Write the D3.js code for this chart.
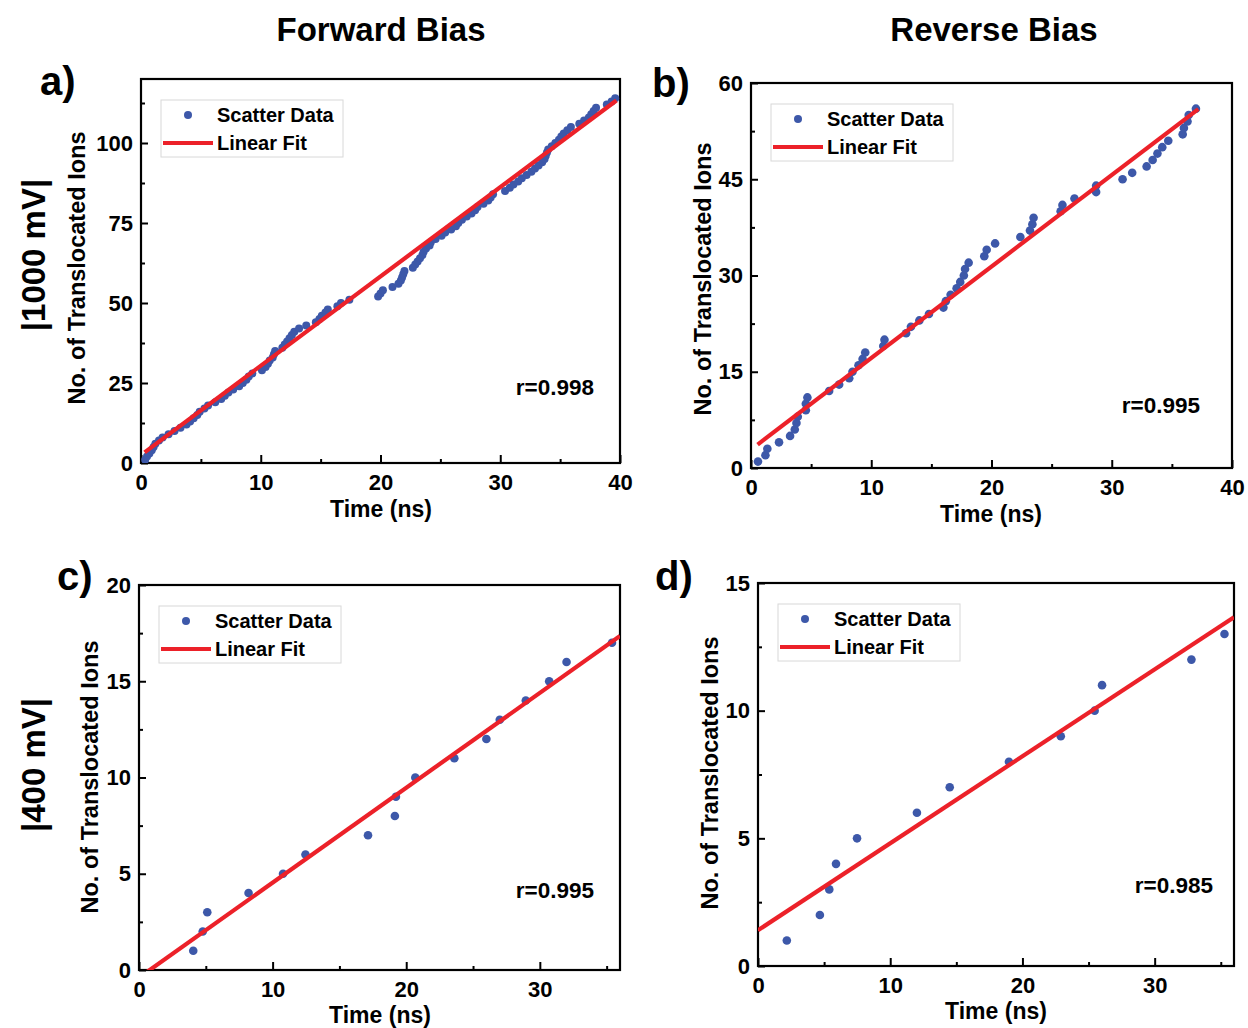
<!DOCTYPE html>
<html>
<head>
<meta charset="utf-8">
<script src="https://cdn.jsdelivr.net/npm/d3@7"></script>
<style>
  body { margin: 0; background: #fff; }
  svg { display: block; font-family: "Liberation Sans", Arial, sans-serif; font-weight: bold; }
</style>
</head>
<body>
<svg width="1248" height="1028"></svg>
<script>
// ---- data ----
// a) forward bias, |1000 mV|
var timeA = [0.35, 0.5, 0.7, 0.9, 1.05, 1.2, 1.5, 1.8, 2.3, 2.8, 3.3, 3.8, 4.1, 4.4, 4.7, 4.9, 5.3, 5.6, 6.2, 6.7,
  7.0, 7.3, 7.7, 8.2, 8.5, 8.8, 9.0, 9.3, 10.1, 10.4, 10.6, 10.75, 11.0, 11.1, 11.2, 11.8, 12.0, 12.2, 12.4, 12.6,
  12.8, 13.2, 13.8, 14.6, 14.9, 15.1, 15.4, 15.6, 16.4, 16.7, 17.4, 19.8, 20.0, 20.2, 21.0, 21.5, 21.7, 21.8, 21.9, 22.0,
  22.7, 22.9, 23.1, 23.3, 23.5, 23.6, 23.8, 24.1, 24.2, 24.6, 25.1, 25.4, 25.9, 26.3, 26.5, 26.8, 27.2, 27.6, 27.9, 28.1,
  28.6, 29.0, 29.2, 29.4, 30.4, 30.8, 31.1, 31.5, 31.8, 32.2, 32.6, 32.9, 33.2, 33.5, 33.7, 33.8, 33.9, 34.0, 34.3, 34.6,
  34.9, 35.1, 35.3, 35.6, 35.9, 36.6, 37.0, 37.4, 37.6, 37.8, 38.0, 38.9, 39.3, 39.6];
var ionsA = [1, 2, 3, 4, 5, 6, 7, 8, 9, 10, 11, 12, 13, 14, 15, 16, 17, 18, 19, 20,
  21, 22, 23, 24, 25, 26, 27, 28, 29, 30, 31, 32, 33, 34, 35, 36, 37, 38, 39, 40,
  41, 42, 43, 44, 45, 46, 47, 48, 49, 50, 51, 52, 53, 54, 55, 56, 57, 58, 59, 60,
  61, 62, 63, 64, 65, 66, 67, 68, 69, 70, 71, 72, 73, 74, 75, 76, 77, 78, 79, 80,
  81, 82, 83, 84, 85, 86, 87, 88, 89, 90, 91, 92, 93, 94, 95, 96, 97, 98, 99, 100,
  101, 102, 103, 104, 105, 106, 107, 108, 109, 110, 111, 112, 113, 114];

// b) reverse bias, |1000 mV|
var timeB = [0.58, 1.2, 1.36, 2.33, 3.25, 3.64, 3.78, 3.89, 4.56, 4.56, 4.69, 6.5, 7.33, 8.17, 8.44, 8.94, 9.28, 9.5,
  11.0, 11.1, 12.9, 13.3, 14.0, 14.8, 16.0, 16.2, 16.6, 17.1, 17.4, 17.7, 17.8, 18.1, 19.4, 19.6, 20.3, 22.4,
  23.2, 23.4, 23.5, 25.75, 25.9, 26.9, 28.7, 28.7, 30.9, 31.7, 32.9, 33.4, 33.8, 34.2, 34.7, 35.9, 36.0, 36.3, 36.4, 37.0];
var ionsB = [1, 2, 3, 4, 5, 6, 7, 8, 9, 10, 11, 12, 13, 14, 15, 16, 17, 18,
  19, 20, 21, 22, 23, 24, 25, 26, 27, 28, 29, 30, 31, 32, 33, 34, 35, 36,
  37, 38, 39, 40, 41, 42, 43, 44, 45, 46, 47, 48, 49, 50, 51, 52, 53, 54, 55, 56];

// c) forward bias, |400 mV|
var timeC = [4.06, 4.77, 5.11, 8.2, 10.78, 12.46, 17.14, 19.15, 19.23, 20.68, 23.6, 26.0, 27.0, 28.95, 30.7, 32.0, 35.4];
var ionsC = [1, 2, 3, 4, 5, 6, 7, 8, 9, 10, 11, 12, 13, 14, 15, 16, 17];

// d) reverse bias, |400 mV|
var timeD = [2.18, 4.68, 5.39, 5.9, 7.49, 12.02, 14.5, 18.98, 22.9, 25.46, 26.02, 32.78, 35.28];
var ionsD = [1, 2, 3, 4, 5, 6, 7, 8, 9, 10, 11, 12, 13];

// linear fits: [slope, intercept, xStart, xEnd]
var fitA = [2.79, 2.5, 0.3, 39.7];
var fitB = [1.426, 2.87, 0.55, 37.2];
var fitC = [0.493, -0.395, 0.0, 36.0];
var fitD = [0.3406, 1.40, 0.0, 36.0];

var rValues = ["r=0.998", "r=0.995", "r=0.995", "r=0.985"];
var columnTitles = ["Forward Bias", "Reverse Bias"];
var rowTitles = ["|1000 mV|", "|400 mV|"];

var blue = "#3d58a9";
var red = "#ec2129";

var svg = d3.select("svg");

var panels = [
  { key: "a)", t: timeA, n: ionsA, fit: fitA, r: rValues[0], x: [0, 40], y: [0, 120], xt: 10, yt: 25,
    box: { l: 141, r: 620, t: 79, b: 463 }, dot: 4, rpos: [594, 395], ylab: [85, 268], xlab: [381, 517], tag: [40, 95] },
  { key: "b)", t: timeB, n: ionsB, fit: fitB, r: rValues[1], x: [0, 40], y: [0, 60], xt: 10, yt: 15,
    box: { l: 751, r: 1232, t: 83, b: 468 }, dot: 4.3, rpos: [1200, 413], ylab: [711, 279], xlab: [991, 522], tag: [652, 97] },
  { key: "c)", t: timeC, n: ionsC, fit: fitC, r: rValues[2], x: [0, 36], y: [0, 20], xt: 10, yt: 5,
    box: { l: 139, r: 620, t: 585, b: 970 }, dot: 4.3, rpos: [594, 898], ylab: [98, 777], xlab: [380, 1023], tag: [57, 590] },
  { key: "d)", t: timeD, n: ionsD, fit: fitD, r: rValues[3], x: [0, 36], y: [0, 15], xt: 10, yt: 5,
    box: { l: 758, r: 1234, t: 583, b: 966 }, dot: 4.3, rpos: [1213, 893], ylab: [718, 773], xlab: [996, 1019], tag: [655, 590] }
];

panels.forEach(function(p, i) {
  var b = p.box;
  var xScale = d3.scaleLinear().domain(p.x).range([b.l, b.r]);
  var yScale = d3.scaleLinear().domain(p.y).range([b.b, b.t]);

  var g = svg.append("g");

  var clipId = "clip" + i;
  g.append("clipPath").attr("id", clipId)
    .append("rect").attr("x", b.l).attr("y", b.t).attr("width", b.r - b.l).attr("height", b.b - b.t);

  var majorX = d3.range(p.x[0], p.x[1] + 0.001, p.xt);
  var minorX = d3.range(p.x[0] + p.xt / 2, p.x[1], p.xt);
  var majorY = d3.range(p.y[0], p.y[1] + 0.001, p.yt);
  var minorY = d3.range(p.y[0] + p.yt / 2, p.y[1], p.yt);

  // minor ticks
  g.append("g").attr("transform", "translate(0," + b.b + ")")
    .call(d3.axisBottom(xScale).tickValues(minorX).tickSize(-4).tickFormat(""))
    .call(function(s) { s.select(".domain").remove(); s.selectAll("line").attr("stroke-width", 2); });
  g.append("g").attr("transform", "translate(" + b.l + ",0)")
    .call(d3.axisLeft(yScale).tickValues(minorY).tickSize(-4).tickFormat(""))
    .call(function(s) { s.select(".domain").remove(); s.selectAll("line").attr("stroke-width", 2); });

  // major ticks + labels
  g.append("g").attr("transform", "translate(0," + b.b + ")")
    .call(d3.axisBottom(xScale).tickValues(majorX).tickSize(-8).tickPadding(11).tickFormat(d3.format("d")))
    .call(function(s) {
      s.select(".domain").remove();
      s.selectAll("line").attr("stroke-width", 2);
      s.selectAll("text").attr("font-size", 22).attr("font-weight", "bold").attr("fill", "#000")
        .attr("font-family", "Liberation Sans, Arial, sans-serif");
    });
  g.append("g").attr("transform", "translate(" + b.l + ",0)")
    .call(d3.axisLeft(yScale).tickValues(majorY).tickSize(-7).tickPadding(8).tickFormat(d3.format("d")))
    .call(function(s) {
      s.select(".domain").remove();
      s.selectAll("line").attr("stroke-width", 2);
      s.selectAll("text").attr("font-size", 22).attr("font-weight", "bold").attr("fill", "#000")
        .attr("font-family", "Liberation Sans, Arial, sans-serif");
    });

  // frame
  g.append("rect")
    .attr("x", b.l).attr("y", b.t).attr("width", b.r - b.l).attr("height", b.b - b.t)
    .attr("fill", "none").attr("stroke", "#000").attr("stroke-width", 2.2);

  var pts = p.t.map(function(t, k) { return [t, p.n[k]]; });

  // scatter
  g.append("g").attr("clip-path", "url(#" + clipId + ")")
    .selectAll("circle").data(pts).enter().append("circle")
    .attr("cx", function(d) { return xScale(d[0]); })
    .attr("cy", function(d) { return yScale(d[1]); })
    .attr("r", p.dot)
    .attr("fill", blue);

  // fit line
  var f = p.fit;
  var line = d3.line()
    .x(function(d) { return xScale(d); })
    .y(function(d) { return yScale(f[0] * d + f[1]); });
  g.append("path")
    .attr("clip-path", "url(#" + clipId + ")")
    .attr("d", line([f[2], f[3]]))
    .attr("fill", "none").attr("stroke", red).attr("stroke-width", 4.2);

  // legend
  var lg = g.append("g").attr("transform", "translate(" + (b.l + 20) + "," + (b.t + 21) + ")");
  lg.append("rect").attr("width", 182).attr("height", 57)
    .attr("fill", "#fff").attr("stroke", "#d8d8d8").attr("stroke-width", 1);
  lg.append("circle").attr("cx", 27).attr("cy", 15).attr("r", 4).attr("fill", blue);
  lg.append("line").attr("x1", 2).attr("x2", 52).attr("y1", 43).attr("y2", 43)
    .attr("stroke", red).attr("stroke-width", 4.2);
  lg.append("text").attr("x", 56).attr("y", 22).attr("font-size", 20).text("Scatter Data");
  lg.append("text").attr("x", 56).attr("y", 50).attr("font-size", 20).text("Linear Fit");

  // r value
  g.append("text").attr("x", p.rpos[0]).attr("y", p.rpos[1])
    .attr("text-anchor", "end").attr("font-size", 22.5).text(p.r);

  // axis titles
  g.append("text").attr("text-anchor", "middle")
    .attr("transform", "translate(" + p.xlab[0] + "," + p.xlab[1] + ")")
    .attr("font-size", 23).text("Time (ns)");
  g.append("text").attr("text-anchor", "middle")
    .attr("transform", "translate(" + p.ylab[0] + "," + p.ylab[1] + ")rotate(-90)")
    .attr("font-size", 23.5).text("No. of Translocated Ions");

  // panel tag
  g.append("text").attr("x", p.tag[0]).attr("y", p.tag[1])
    .attr("font-size", 40).text(p.key);
});

// column and row headings
svg.append("text").attr("x", 381).attr("y", 41).attr("text-anchor", "middle")
  .attr("font-size", 33).text(columnTitles[0]);
svg.append("text").attr("x", 994).attr("y", 41).attr("text-anchor", "middle")
  .attr("font-size", 33).text(columnTitles[1]);
svg.append("text").attr("text-anchor", "middle")
  .attr("transform", "translate(45,255)rotate(-90)")
  .attr("font-size", 33).text(rowTitles[0]);
svg.append("text").attr("text-anchor", "middle")
  .attr("transform", "translate(45,765)rotate(-90)")
  .attr("font-size", 33).text(rowTitles[1]);
</script>
</body>
</html>
